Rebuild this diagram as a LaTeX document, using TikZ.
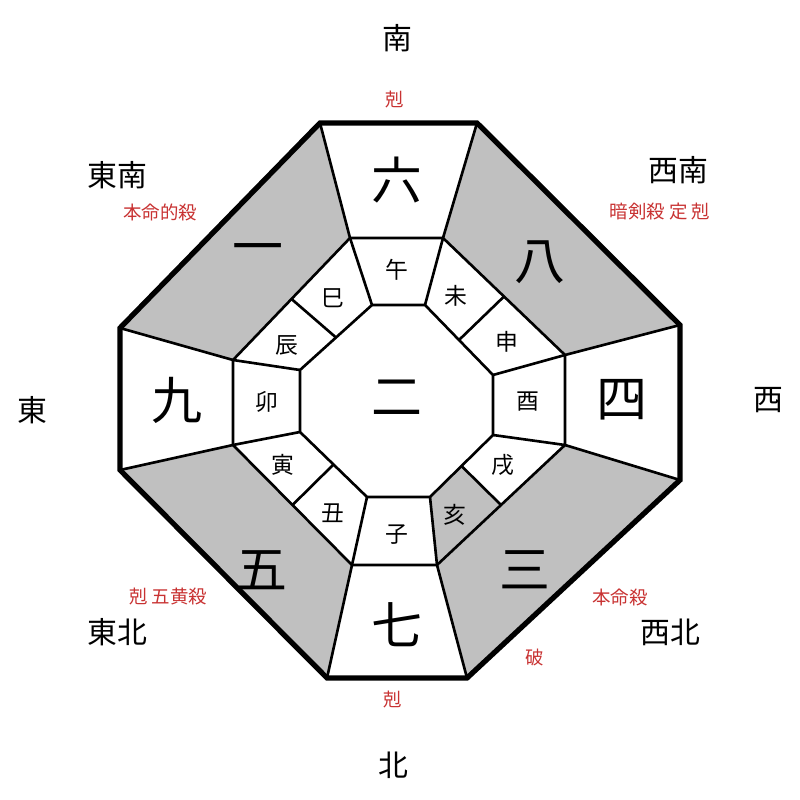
\documentclass[tikz,border=0pt]{standalone}
\usepackage{fontspec}
\usetikzlibrary{calc}
\newfontfamily\cjk{Noto Sans CJK JP}
\definecolor{kred}{RGB}{200,50,50}
\definecolor{kgray}{RGB}{192,192,192}
\begin{document}
\begin{tikzpicture}[x=0.02cm,y=-0.02cm,font=\cjk]
\tikzstyle{big}=[font=\cjk\fontsize{29}{29}\selectfont]
\tikzstyle{cell}=[font=\cjk\fontsize{13}{13}\selectfont]
\tikzstyle{dir}=[font=\cjk\fontsize{17}{17}\selectfont]
\tikzstyle{note}=[font=\cjk\fontsize{10.5}{10.5}\selectfont,text=kred]
\tikzstyle{rule}=[line width=1.5pt]
\useasboundingbox (0,0) rectangle (800,800);
% octagon corners
\coordinate (o1) at (320,123); \coordinate (o2) at (477,123);
\coordinate (o3) at (680,325); \coordinate (o4) at (680,480);
\coordinate (o5) at (467,678); \coordinate (o6) at (327,678);
\coordinate (o7) at (120,470); \coordinate (o8) at (120,328);
\coordinate (m1) at (350,238); \coordinate (m2) at (443,238);
\coordinate (m3) at (565,355); \coordinate (m4) at (565,445);
\coordinate (m5) at (437,565); \coordinate (m6) at (352,565);
\coordinate (m7) at (233,445); \coordinate (m8) at (233,360);
\coordinate (i1) at (372,305); \coordinate (i2) at (425,305);
\coordinate (i3) at (493,375); \coordinate (i4) at (493,435);
\coordinate (i5) at (430,497); \coordinate (i6) at (367,497);
\coordinate (i7) at (300,432); \coordinate (i8) at (300,370);
% dividers of the diagonal cells
\coordinate (a2) at ($(m2)!0.5!(m3)$); \coordinate (b2) at ($(i2)!0.5!(i3)$);
\coordinate (a4) at ($(m4)!0.5!(m5)$); \coordinate (b4) at ($(i4)!0.5!(i5)$);
\coordinate (a6) at ($(m6)!0.5!(m7)$); \coordinate (b6) at ($(i6)!0.5!(i7)$);
\coordinate (a8) at ($(m8)!0.5!(m1)$); \coordinate (b8) at ($(i8)!0.5!(i1)$);
% gray sectors
\fill[kgray] (o2) -- (o3) -- (m3) -- (m2) -- cycle;
\fill[kgray] (o4) -- (o5) -- (m5) -- (m4) -- cycle;
\fill[kgray] (o6) -- (o7) -- (m7) -- (m6) -- cycle;
\fill[kgray] (o8) -- (o1) -- (m1) -- (m8) -- cycle;
\fill[kgray] (a4) -- (m5) -- (i5) -- (b4) -- cycle;
% lines
\draw[rule] (m1) -- (m2) -- (m3) -- (m4) -- (m5) -- (m6) -- (m7) -- (m8) -- cycle;
\draw[rule] (i1) -- (i2) -- (i3) -- (i4) -- (i5) -- (i6) -- (i7) -- (i8) -- cycle;
\foreach \k in {1,...,8} \draw[rule] (o\k) -- (m\k) -- (i\k);
\foreach \k in {2,4,6,8} \draw[rule] (a\k) -- (b\k);
\draw[line width=3pt,line join=miter] (o1) -- (o2) -- (o3) -- (o4) -- (o5) -- (o6) -- (o7) -- (o8) -- cycle;
% stars
\node[big] (n6) at (397,180) {六};
\node[big] (n8) at (540,262) {八};
\node[big] (n4) at (622,400) {四};
\node[big] (n3) at (525,570) {三};
\node[big] (n7) at (397,625) {七};
\node[big] (n5) at (262,570) {五};
\node[big] (n9) at (177,400) {九};
\node[big] (n1) at (258,255) {一};
\node[big] (n2) at (397,398) {二};
% branches
\node[cell] (z7) at (397,270) {午};
\node[cell] (z8) at (456,296) {未};
\node[cell] (z9) at (507,342) {申};
\node[cell] (z10) at (528,402) {酉};
\node[cell] (z11) at (503,465) {戌};
\node[cell] (z12) at (455,515) {亥};
\node[cell] (z1) at (397,535) {子};
\node[cell] (z2) at (333,513) {丑};
\node[cell] (z3) at (283,465) {寅};
\node[cell] (z4) at (267,402) {卯};
\node[cell] (z5) at (287,345) {辰};
\node[cell] (z6) at (333,298) {巳};
% directions
\node[dir] (south) at (397,38) {南};
\node[dir] (north) at (393,765) {北};
\node[dir] (east) at (32,410) {東};
\node[dir] (west) at (768,400) {西};
\node[dir] (se) at (117,175) {東南};
\node[dir] (sw) at (678,170) {西南};
\node[dir] (ne) at (117,632) {東北};
\node[dir] (nw) at (670,632) {西北};
% notes
\node[note] (t1) at (395,100) {剋};
\node[note] (t2) at (160,212) {本命的殺};
\node[note] (t3) at (660,212) {暗剣殺\ 定\ 剋};
\node[note] (t4) at (168,597) {剋\ 五黄殺};
\node[note] (t5) at (620,597) {本命殺};
\node[note] (t6) at (535,657) {破};
\node[note] (t7) at (393,700) {剋};
\end{tikzpicture}
\end{document}
